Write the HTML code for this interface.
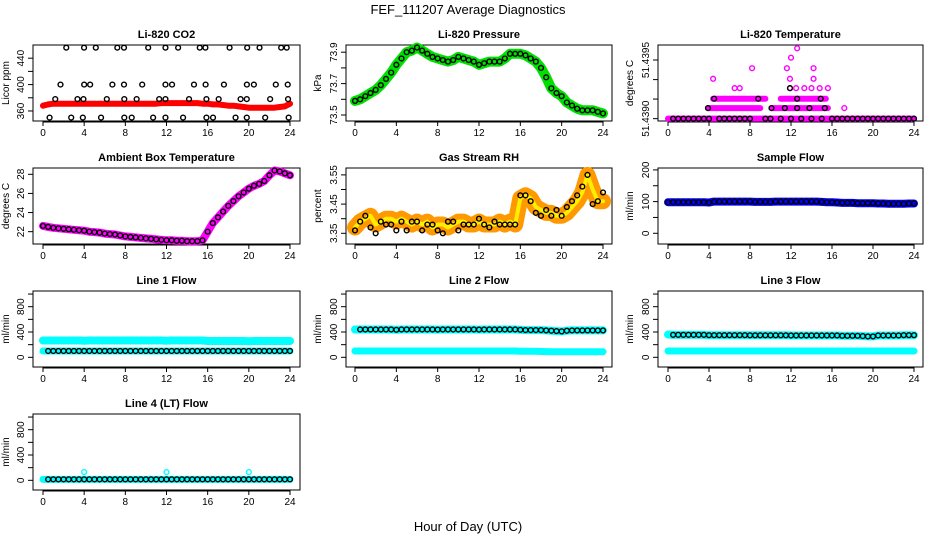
<!DOCTYPE html>
<html><head><meta charset="utf-8"><style>
body{margin:0;background:#fff;}
svg{display:block;font-family:"Liberation Sans",sans-serif;}
</style></head><body>
<svg id="chart" width="936" height="540" viewBox="0 0 936 540" xmlns="http://www.w3.org/2000/svg">
<text x="468" y="14" text-anchor="middle" font-size="13">FEF_111207  Average Diagnostics</text>
<text x="468" y="531" text-anchor="middle" font-size="13">Hour of Day (UTC)</text>
</svg>
<script>
const hours=[0,0.5,1,1.5,2,2.5,3,3.5,4,4.5,5,5.5,6,6.5,7,7.5,8,8.5,9,9.5,10,10.5,11,11.5,12,12.5,13,13.5,14,14.5,15,15.5,16,16.5,17,17.5,18,18.5,19,19.5,20,20.5,21,21.5,22,22.5,23,23.5,24];
const xTicks=[0,4,8,12,16,20,24];
const co2Red=[368,370,371,371,371,371,371,371,371,371,371,371,371,371,371,371,371,371,371,371,371,371,371,372,372,372,372,372,372,372,372,371,371,370,370,369,368,368,367,366,365,365,365,365,365,365,366,367,371];
const co2OutT=[2.26,3.99,5.13,7.22,7.87,10.22,11.9,13.13,15.23,15.78,18.13,19.84,21.04,23.14,23.68,1.7,4.0,4.58,6.74,7.87,9.64,11.9,12.54,14.67,15.8,17.58,19.81,20.49,22.62,23.78,1.19,3.35,3.93,6.2,7.9,9.1,11.29,11.9,14.19,15.88,17.07,19.2,19.8,22.07,23.81,0.64,2.74,3.87,5.64,7.9,8.62,10.7,11.9,13.61,15.88,16.52,18.71,19.8,21.59,23.87];
const co2OutV=[456,456,456,456,456,456,456,456,456,456,456,456,456,456,456,400,400,400,400,400,400,400,400,400,400,400,400,400,400,400,378,378,378,378,378,378,378,378,378,378,378,378,378,378,378,350,350,350,350,350,350,350,350,350,350,350,350,350,350,350];
const pressure=[73.59,73.60,73.62,73.64,73.66,73.69,73.73,73.77,73.82,73.86,73.90,73.91,73.93,73.91,73.89,73.87,73.86,73.85,73.84,73.85,73.87,73.86,73.85,73.84,73.82,73.83,73.84,73.84,73.84,73.86,73.89,73.89,73.89,73.88,73.86,73.84,73.80,73.74,73.67,73.64,73.62,73.58,73.56,73.54,73.53,73.53,73.53,73.52,73.51];
const tempBandStart=[0,3.9,10.1,4.4,11.0];
const tempBandEnd=[24,9.0,15.6,9.5,15.4];
const tempBandV=[51.43900,51.43909,51.43909,51.43917,51.43917];
const tempPtT=[17.2,6.5,7.0,11.9,12.5,13.3,14.0,14.8,15.6,4.4,11.9,14.2,8.2,11.6,14.2,12.0,12.6];
const tempPtV=[51.43909,51.43926,51.43926,51.43926,51.43926,51.43926,51.43926,51.43926,51.43926,51.43934,51.43934,51.43934,51.43943,51.43943,51.43943,51.43952,51.43960];
const tempBlkT=[0.5,1,1.5,2,2.5,3,3.5,4,5,5.5,6,6.5,7,7.5,8,9.5,10,11,12,13,14,15,16,16.5,17,17.5,18,18.5,19,19.5,20,20.5,21,21.5,22,22.5,23,23.5,24,3.9,10.1,11.4,12.6,13.8,15.3,4.5,8.8,12.6,14.9,11.9];
const tempBlkV=[51.439,51.439,51.439,51.439,51.439,51.439,51.439,51.439,51.439,51.439,51.439,51.439,51.439,51.439,51.439,51.439,51.439,51.439,51.439,51.439,51.439,51.439,51.439,51.439,51.439,51.439,51.439,51.439,51.439,51.439,51.439,51.439,51.439,51.439,51.439,51.439,51.439,51.439,51.439,51.43909,51.43909,51.43909,51.43909,51.43909,51.43909,51.43917,51.43917,51.43917,51.43917,51.43926];
const ambient=[22.6,22.5,22.4,22.35,22.3,22.25,22.2,22.15,22.1,22.0,21.95,21.9,21.8,21.75,21.7,21.6,21.5,21.45,21.4,21.35,21.3,21.25,21.2,21.15,21.1,21.1,21.05,21.05,21.0,21.0,21.0,21.1,22.0,22.9,23.5,24.1,24.7,25.2,25.7,26.1,26.5,26.8,27.0,27.3,27.9,28.4,28.3,28.1,27.9];
const rh=[3.37,3.39,3.40,3.41,3.38,3.39,3.40,3.40,3.39,3.40,3.39,3.38,3.39,3.38,3.39,3.37,3.38,3.38,3.37,3.38,3.39,3.39,3.38,3.38,3.39,3.38,3.38,3.38,3.39,3.38,3.39,3.38,3.47,3.48,3.47,3.44,3.43,3.42,3.42,3.41,3.41,3.42,3.44,3.46,3.49,3.55,3.50,3.46,3.46];
const rhBlk=[3.36,3.39,3.41,3.37,3.35,3.39,3.38,3.38,3.36,3.39,3.36,3.39,3.39,3.36,3.38,3.38,3.36,3.35,3.39,3.39,3.36,3.38,3.38,3.38,3.40,3.38,3.37,3.39,3.38,3.38,3.38,3.38,3.48,3.48,3.46,3.42,3.41,3.43,3.41,3.43,3.41,3.44,3.46,3.48,3.51,3.55,3.45,3.46,3.49];
const sampleFlow=[98,98,98,98,98,98,98,98,97,100,100,100,100,100,100,100,100,99,99,99,99,100,100,100,100,100,100,100,100,100,99,98,98,97,96,96,96,95,95,95,95,94,94,93,93,93,93,94,94];
const lf1Upper=[265,265,265,265,265,265,265,265,262,265,265,265,265,265,265,265,265,265,265,265,265,265,265,265,262,265,265,265,265,265,265,265,258,258,258,258,258,258,258,258,255,258,258,258,258,258,258,258,258];
const lf1Lower=[100,100,100,100,100,100,100,100,100,100,100,100,100,100,100,100,100,100,100,100,100,100,100,100,100,100,100,100,100,100,100,100,100,100,100,100,100,100,100,100,100,100,100,100,100,100,100,100,100];
const lf2Upper=[440,440,440,440,440,440,440,440,435,440,440,440,440,440,440,440,438,440,440,440,440,440,440,440,438,440,440,440,440,440,440,440,435,430,430,430,430,425,420,415,410,420,425,425,425,425,425,425,425];
const lf2Lower=[100,100,100,100,100,100,100,100,100,100,100,100,100,100,100,100,100,100,100,100,100,100,100,100,100,100,100,100,100,100,100,100,95,95,95,95,92,90,88,88,88,88,88,88,88,88,88,88,88];
const lf3Upper=[360,355,355,355,355,355,355,355,350,350,350,350,350,350,350,350,348,348,348,348,348,348,348,348,345,345,345,345,345,345,345,345,345,345,340,340,340,340,335,330,330,345,345,345,345,345,350,350,350];
const lf3Lower=[100,100,100,100,100,100,100,100,100,100,100,100,100,100,100,100,100,100,100,100,100,100,100,100,100,100,100,100,100,100,100,100,100,100,100,100,100,100,100,100,100,100,100,100,100,100,100,100,100];
const lf4=[15,15,15,15,15,15,15,15,15,15,15,15,15,15,15,15,15,15,15,15,15,15,15,15,15,15,15,15,15,15,15,15,15,15,15,15,15,15,15,15,15,15,15,15,15,15,15,15,15];
const lf4SpikeT=[4,12,20];
const lf4SpikeV=[130,130,130];

const NS="http://www.w3.org/2000/svg";
const svg=document.getElementById('chart');
const cols=[{l:33,r:300,x0:43,x1:290,yt:9},{l:346,r:612,x0:355,x1:603,yt:321},{l:658,r:923,x0:668,x1:914,yt:633}];
const rows=[{t:45,b:121},{t:168,b:244},{t:291,b:367},{t:414,b:490}];
function el(tag,attrs,parent){const e=document.createElementNS(NS,tag);for(const k in attrs)e.setAttribute(k,attrs[k]);(parent||svg).appendChild(e);return e;}
function makePanel(ci,ri,name,title,ytitle,dom,ticks,labels){
  const c=cols[ci],r=rows[ri];
  const g=el('g',{});
  
  
  const xs=t=>c.x0+(t/24)*(c.x1-c.x0);
  const ys=v=>r.b-(v-dom[0])/(dom[1]-dom[0])*(r.b-r.t);
  const tt=el('text',{x:(c.l+c.r)/2,y:r.t-7,'text-anchor':'middle','font-size':'11','font-weight':'bold'},g);
  tt.textContent=title;
  
  
  const box=el('rect',{x:c.l,y:r.t,width:c.r-c.l,height:r.b-r.t,fill:'none',stroke:'#000','stroke-width':1},g);
  
  
  const xa=el('g',{},g);
  
  
  el('line',{x1:xs(0),x2:xs(24),y1:r.b+1,y2:r.b+1,stroke:'#000'},xa);
  xTicks.forEach(t=>{el('line',{x1:xs(t),x2:xs(t),y1:r.b,y2:r.b+5,stroke:'#000'},xa);
    const lb=el('text',{x:xs(t),y:r.b+15,'text-anchor':'middle','font-size':'10'},xa);lb.textContent=t;});
  const ya=el('g',{},g);
  
  
  el('line',{x1:c.l,x2:c.l,y1:ys(ticks[0]),y2:ys(ticks[ticks.length-1]),stroke:'#000'},ya);
  ticks.forEach((v,i)=>{const y=ys(v);el('line',{x1:c.l-5,x2:c.l,y1:y,y2:y,stroke:'#000'},ya);
    if(labels[i]!==''){const lb=el('text',{x:c.l-9,y:y,'text-anchor':'middle','font-size':'10',transform:`rotate(-90 ${c.l-9} ${y})`},ya);lb.textContent=labels[i];}});
  const yt=el('text',{x:c.yt,y:(r.t+r.b)/2,'text-anchor':'middle','font-size':'10',transform:`rotate(-90 ${c.yt} ${(r.t+r.b)/2})`},g);
  yt.textContent=ytitle;
  
  
  const pg=el('g',{},g);
  
  
  return {xs,ys,g:pg};
}
function band(p,T,V,color,w){
  const pts=T.map((t,i)=>p.xs(t).toFixed(1)+','+p.ys(V[i]).toFixed(1)).join(' ');
  const pl=el('polyline',{points:pts,fill:'none',stroke:color,'stroke-width':w,'stroke-linecap':'round','stroke-linejoin':'round'},p.g);
  
  
}
function pts(p,T,V,color,rad,sw){
  T.forEach((t,i)=>{const c=el('circle',{cx:p.xs(t),cy:p.ys(V[i]),r:rad||2.4,fill:'none',stroke:color,'stroke-width':sw||1.4},p.g);
    
    });
}
function segs(p,S,E,V,color,w){
  S.forEach((s,i)=>{const l=el('line',{x1:p.xs(s),x2:p.xs(E[i]),y1:p.ys(V[i]),y2:p.ys(V[i]),stroke:color,'stroke-width':w,'stroke-linecap':'round'},p.g);
    
    });
}
// CO2
let p=makePanel(0,0,'co2','Li-820 CO2','Licor ppm',[344.8,460],[360,380,400,420,440],['360','','400','','440']);
band(p,hours,co2Red,'#f00',6);pts(p,hours,co2Red,'#f00',2.2,1.2);pts(p,co2OutT,co2OutV,'#000');
// Pressure
p=makePanel(1,0,'pressure','Li-820 Pressure','kPa',[73.4618,73.9459],[73.5,73.6,73.7,73.8,73.9],['73.5','','73.7','','73.9']);
band(p,hours,pressure,'#00e000',10);pts(p,hours,pressure,'#000');
// Temperature
p=makePanel(2,0,'li820-temp','Li-820 Temperature','degrees C',[51.43898,51.439628],[51.4390,51.439167,51.439333,51.4395],['51.4390','','','51.4395']);
segs(p,tempBandStart,tempBandEnd,tempBandV,'#f0f',6);pts(p,tempPtT,tempPtV,'#f0f');pts(p,tempBlkT,tempBlkV,'#000');
// Ambient
p=makePanel(0,1,'ambient-temp','Ambient Box Temperature','degrees C',[20.71,28.66],[22,24,26,28],['22','24','26','28']);
band(p,hours,ambient,'#f0f',8);pts(p,hours,ambient,'#000');
// RH
p=makePanel(1,1,'gas-rh','Gas Stream RH','percent',[3.3134,3.5736],[3.35,3.40,3.45,3.50,3.55],['3.35','','3.45','','3.55']);
band(p,hours,rh,'#ff9900',16);band(p,hours,rh,'#ffee00',4);pts(p,hours,rhBlk,'#000');
// Sample flow
p=makePanel(2,1,'sample-flow','Sample Flow','ml/min',[-33.8,206],[0,50,100,150,200],['0','','100','','200']);
band(p,hours,sampleFlow,'#0000ff',8);pts(p,hours,sampleFlow,'#000');
const fd=[-153,1048],ft=[0,200,400,600,800,1000],fl=['0','','400','','800',''];
p=makePanel(0,2,'line1-flow','Line 1 Flow','ml/min',fd,ft,fl);
band(p,hours,lf1Upper,'#00ffff',8);band(p,hours,lf1Lower,'#00ffff',7);pts(p,hours.slice(1),lf1Lower.slice(1),'#000');
p=makePanel(1,2,'line2-flow','Line 2 Flow','ml/min',fd,ft,fl);
band(p,hours,lf2Upper,'#00ffff',8);band(p,hours,lf2Lower,'#00ffff',7);pts(p,hours.slice(1),lf2Upper.slice(1),'#000');
p=makePanel(2,2,'line3-flow','Line 3 Flow','ml/min',fd,ft,fl);
band(p,hours,lf3Upper,'#00ffff',8);band(p,hours,lf3Lower,'#00ffff',7);pts(p,hours.slice(1),lf3Upper.slice(1),'#000');
p=makePanel(0,3,'line4-flow','Line 4 (LT) Flow','ml/min',fd,ft,fl);
band(p,hours,lf4,'#00ffff',7);pts(p,lf4SpikeT,lf4SpikeV,'#00ffff');pts(p,hours.slice(1),lf4.slice(1),'#000');
</script>
</body></html>
